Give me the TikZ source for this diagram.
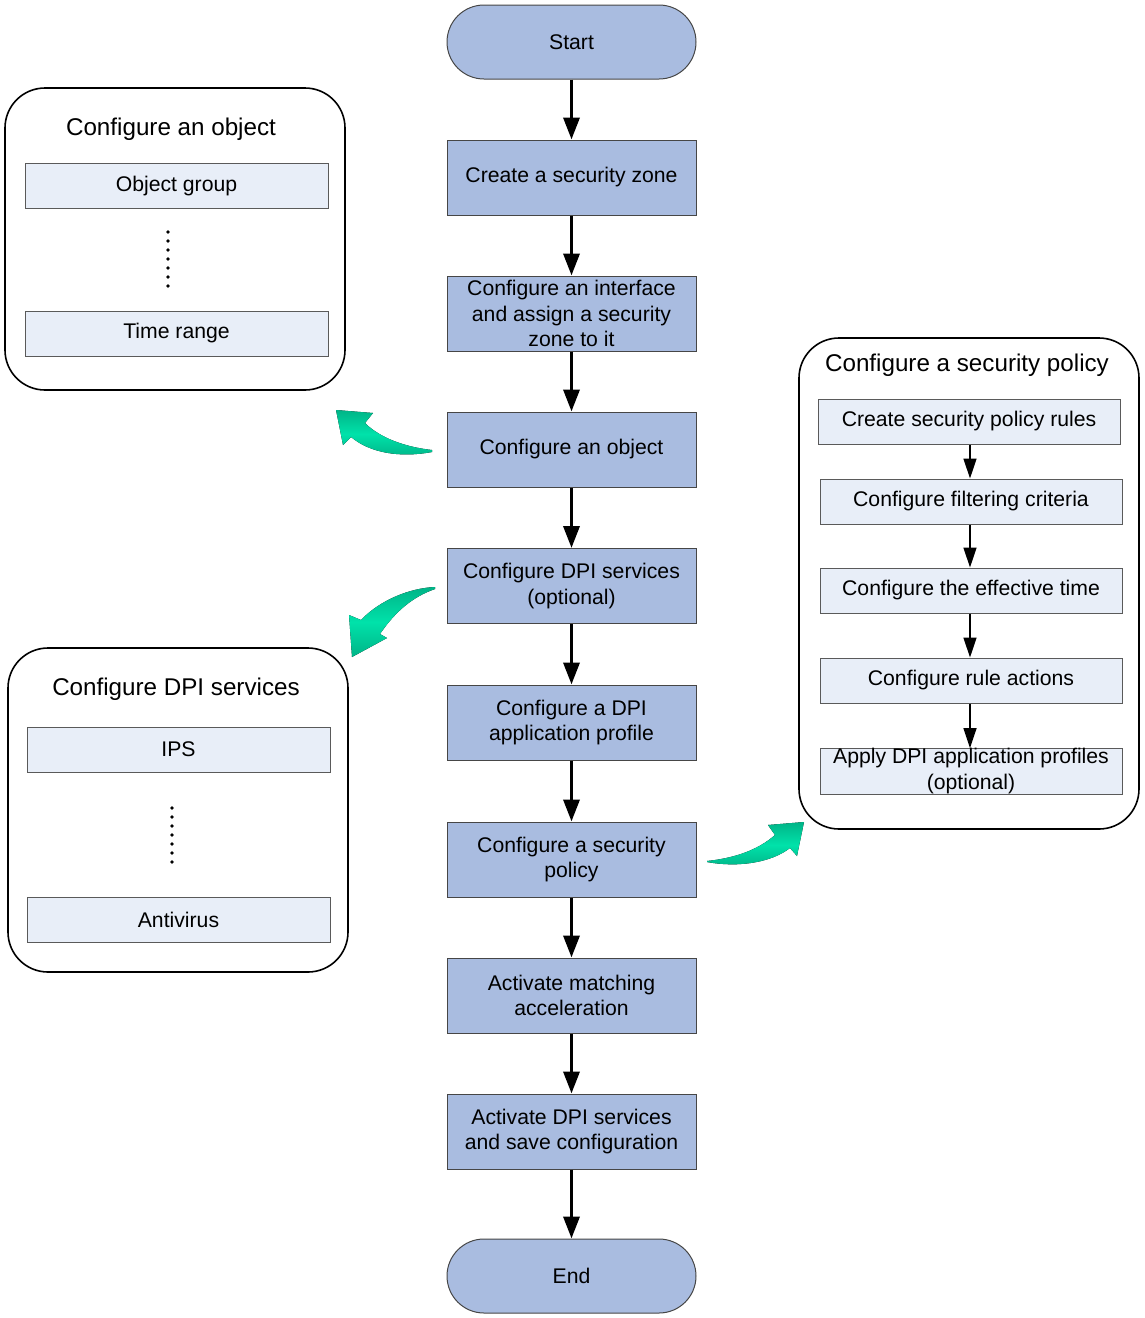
\documentclass[tikz,border=0pt]{standalone}
\usepackage{fontspec}
\setmainfont{Liberation Sans}
\usetikzlibrary{arrows.meta}
\definecolor{mainfill}{RGB}{169,188,224}
\definecolor{subfill}{RGB}{232,238,248}
\definecolor{mainborder}{RGB}{70,70,70}
\definecolor{subborder}{RGB}{90,90,90}
\definecolor{greendark}{RGB}{0,180,135}
\definecolor{greenlight}{RGB}{0,226,170}
\tikzset{
  txt/.style={font=\fontsize{21.2}{25.5}\selectfont},
  hdr/.style={font=\fontsize{24.2}{28}\selectfont, inner sep=0pt},
  mainbox/.style={draw=mainborder, line width=1pt, fill=mainfill, minimum width=249pt, minimum height=75pt, inner sep=0pt, align=center, txt},
  termbox/.style={mainbox, minimum height=74pt, rounded corners=37pt},
  subbox/.style={draw=subborder, line width=1pt, fill=subfill, minimum width=303pt, minimum height=45pt, inner sep=0pt, align=center, txt},
  groupbox/.style={draw=black, line width=1.6pt, rounded corners=40pt, inner sep=0pt},
  mainarrow/.style={line width=3.5pt, -{Triangle[length=22pt,width=16pt]}},
  subarrow/.style={line width=1.5pt, -{Triangle[length=20pt,width=13pt]}},
  greenarrow/.style={draw=none, top color=greendark, bottom color=greendark, middle color=greenlight},
  dotmark/.style={fill=black, draw=none},
}
\begin{document}
\begin{tikzpicture}[x=1pt,y=-1pt]
\useasboundingbox (0,0) rectangle (1144,1318);

% main column
\node[termbox] (start) at (571.5,42) {Start};
\node[mainbox] (zone) at (571.5,177.5) {Create a security zone};
\node[mainbox] (iface) at (571.5,313.5) {Configure an interface\\and assign a security\\zone to it};
\node[mainbox] (obj) at (571.5,449.5) {Configure an object};
\node[mainbox] (dpi) at (571.5,586) {Configure DPI services\\(optional)};
\node[mainbox] (prof) at (571.5,722.5) {Configure a DPI\\application profile};
\node[mainbox] (pol) at (571.5,859.5) {Configure a security\\policy};
\node[mainbox] (accel) at (571.5,995.5) {Activate matching\\acceleration};
\node[mainbox] (save) at (571.5,1131.5) {Activate DPI services\\and save configuration};
\node[termbox] (end) at (571.5,1276) {End};

\foreach \a/\b in {start/zone,zone/iface,iface/obj,obj/dpi,dpi/prof,prof/pol,pol/accel,accel/save,save/end}
  \draw[mainarrow] (\a.south) -- (\b.north);

% left group: object
\node[groupbox, minimum width=340pt, minimum height=302pt] (gobj) at (175,239) {};
\node[hdr] (gobjh) at (171,129) {Configure an object};
\node[subbox] (og) at (176.5,186) {Object group};
\node[subbox] (tr) at (176.5,333.5) {Time range};
\foreach \i in {0,...,6} \fill[dotmark] (168,232+9*\i) circle (1.8pt);

% left group: DPI services
\node[groupbox, minimum width=340pt, minimum height=324pt] (gdpi) at (178,810) {};
\node[hdr] (gdpih) at (176,689) {Configure DPI services};
\node[subbox] (ips) at (178.5,749.5) {IPS};
\node[subbox] (av) at (178.5,919.5) {Antivirus};
\foreach \i in {0,...,6} \fill[dotmark] (172,808+9*\i) circle (1.8pt);

% right group: security policy
\node[groupbox, minimum width=340pt, minimum height=491pt] (gpol) at (969,583.5) {};
\node[hdr] (gpolh) at (967,365) {Configure a security policy};
\node[subbox, minimum width=302pt] (s1) at (969,421.5) {Create security policy rules};
\node[subbox, minimum width=302pt] (s2) at (971,501.5) {Configure filtering criteria};
\node[subbox, minimum width=302pt] (s3) at (971,590.5) {Configure the effective time};
\node[subbox, minimum width=302pt] (s4) at (971,680.5) {Configure rule actions};
\node[subbox, minimum width=302pt, font=\fontsize{21.2}{26}\selectfont] (s5) at (971,771.5) {Apply DPI application profiles\\(optional)};
\foreach \a/\b in {s1/s2,s2/s3,s3/s4,s4/s5}
  \draw[subarrow] (\a.south -| 970,0) -- (\b.north -| 970,0);

% green curved arrows
\fill[greenarrow] (432,450) .. controls (405,447) and (380,438) .. (365,423) -- (373,413) -- (336,410) -- (343,445) -- (351,437) .. controls (370,453) and (400,458) .. (432,452) -- cycle;
\fill[greenarrow] (435,587) .. controls (410,588) and (380,600) .. (361,620) -- (349,615) -- (352,657) -- (387,638) -- (380,634) .. controls (395,612) and (412,597) .. (435,589) -- cycle;
\fill[greenarrow] (707,861) .. controls (735,858) and (758,850) .. (775,835) -- (768,825) -- (804,822) -- (797,856) -- (790,848) .. controls (772,862) and (740,868) .. (707,862) -- cycle;
\end{tikzpicture}
\end{document}
